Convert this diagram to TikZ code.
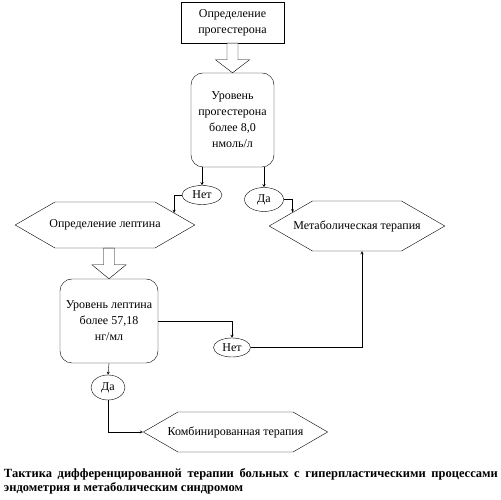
\documentclass[tikz,border=0pt]{standalone}
\usepackage{fontspec}
\setmainfont{Liberation Serif}
\usepackage{tikz}
\usetikzlibrary{shapes.geometric, shapes.symbols, arrows, calc}
\tikzstyle{startstop} = [rectangle, 
minimum width=103pt, 
minimum height=41pt, 
text centered, align=center, 
draw=black]
\tikzstyle{level} = [rectangle, rounded corners=12pt, 
text centered, align=center, 
draw=black]
\tikzstyle{answer} = [ellipse, inner sep=0pt, draw=black]
\tikzstyle{therapy} = [signal, signal to=west and east, 
signal pointer angle=60, 
inner sep=0pt, 
draw=black]
\tikzstyle{hollow} = [thin, draw=black, fill=white]
\tikzstyle{arrow} = [thin, ->, >=stealth]

\begin{document}
\begin{tikzpicture}[x=1pt, y=1pt, font=\fontsize{12}{16}\selectfont]
			\useasboundingbox (0,0) rectangle (501,500);
			
			\node (start) [startstop] at (232.5,477.5) {Определение\\ прогестерона};
			\node (lev1) [level, minimum width=83pt, minimum height=94pt] at (232.5,380) {Уровень\\ прогестерона\\ более 8,0\\ нмоль/л};
			
			\node (net1) [answer, minimum width=40pt, minimum height=19pt] at (202,305) {Нет};
			\node (da1) [answer, minimum width=39pt, minimum height=24pt] at (264,300.5) {Да};
			
			\node (lept) [therapy, minimum height=46pt] at (105,275) {\makebox[100pt]{Определение лептина}};
			\node (meta) [therapy, minimum height=50pt] at (357,274) {\makebox[89pt]{Метаболическая терапия}};
			
			\node (lev2) [level, minimum width=98pt, minimum height=84pt] at (109,179) {Уровень лептина\\ более 57,18\\ нг/мл};
			\node (net2) [answer, minimum width=37pt, minimum height=19pt] at (232,152.5) {Нет};
			\node (da2) [answer, minimum width=34pt, minimum height=25pt] at (108,112.5) {Да};
			\node (comb) [therapy, minimum height=40pt] at (235.5,68) {\makebox[115pt]{Комбинированная терапия}};
			
			\node (caption) [text width=494pt, align=justify, font=\fontsize{12.5}{14}\selectfont\bfseries] at (251,19) {Тактика дифференцированной терапии больных с гиперпластическими процессами\linebreak эндометрия и метаболическим синдромом};
			
			\draw [hollow] ([xshift=-5.5pt]start.south) -- ([xshift=-5.5pt,yshift=13pt]lev1.north) -- ([xshift=-17pt,yshift=13pt]lev1.north) -- (lev1.north) -- ([xshift=17pt,yshift=13pt]lev1.north) -- ([xshift=5.5pt,yshift=13pt]lev1.north) -- ([xshift=5.5pt]start.south) -- cycle;
			\draw [hollow] ([xshift=-5.5pt]lev2.north |- lept.south) -- ([xshift=-5.5pt,yshift=14pt]lev2.north) -- ([xshift=-17pt,yshift=14pt]lev2.north) -- (lev2.north) -- ([xshift=17pt,yshift=14pt]lev2.north) -- ([xshift=5.5pt,yshift=14pt]lev2.north) -- ([xshift=5.5pt]lev2.north |- lept.south) -- cycle;
			
			\draw [arrow] (lev1.south -| net1.north) -- (net1.north);
			\draw [arrow] (lev1.south -| da1.north) -- (da1.north);
			\draw [arrow] (net1.west) -| (lept.10);
			\draw [arrow] (da1.east) -| (meta.168);
			\draw [arrow] (lev2.east) -| (net2.north);
			\draw [arrow] (net2.east) -| ([xshift=5pt]meta.south);
			\draw [arrow] (lev2.south) -- (da2.north);
			\draw [arrow] (da2.south) |- (comb.west);
			
		\end{tikzpicture}
\end{document}
